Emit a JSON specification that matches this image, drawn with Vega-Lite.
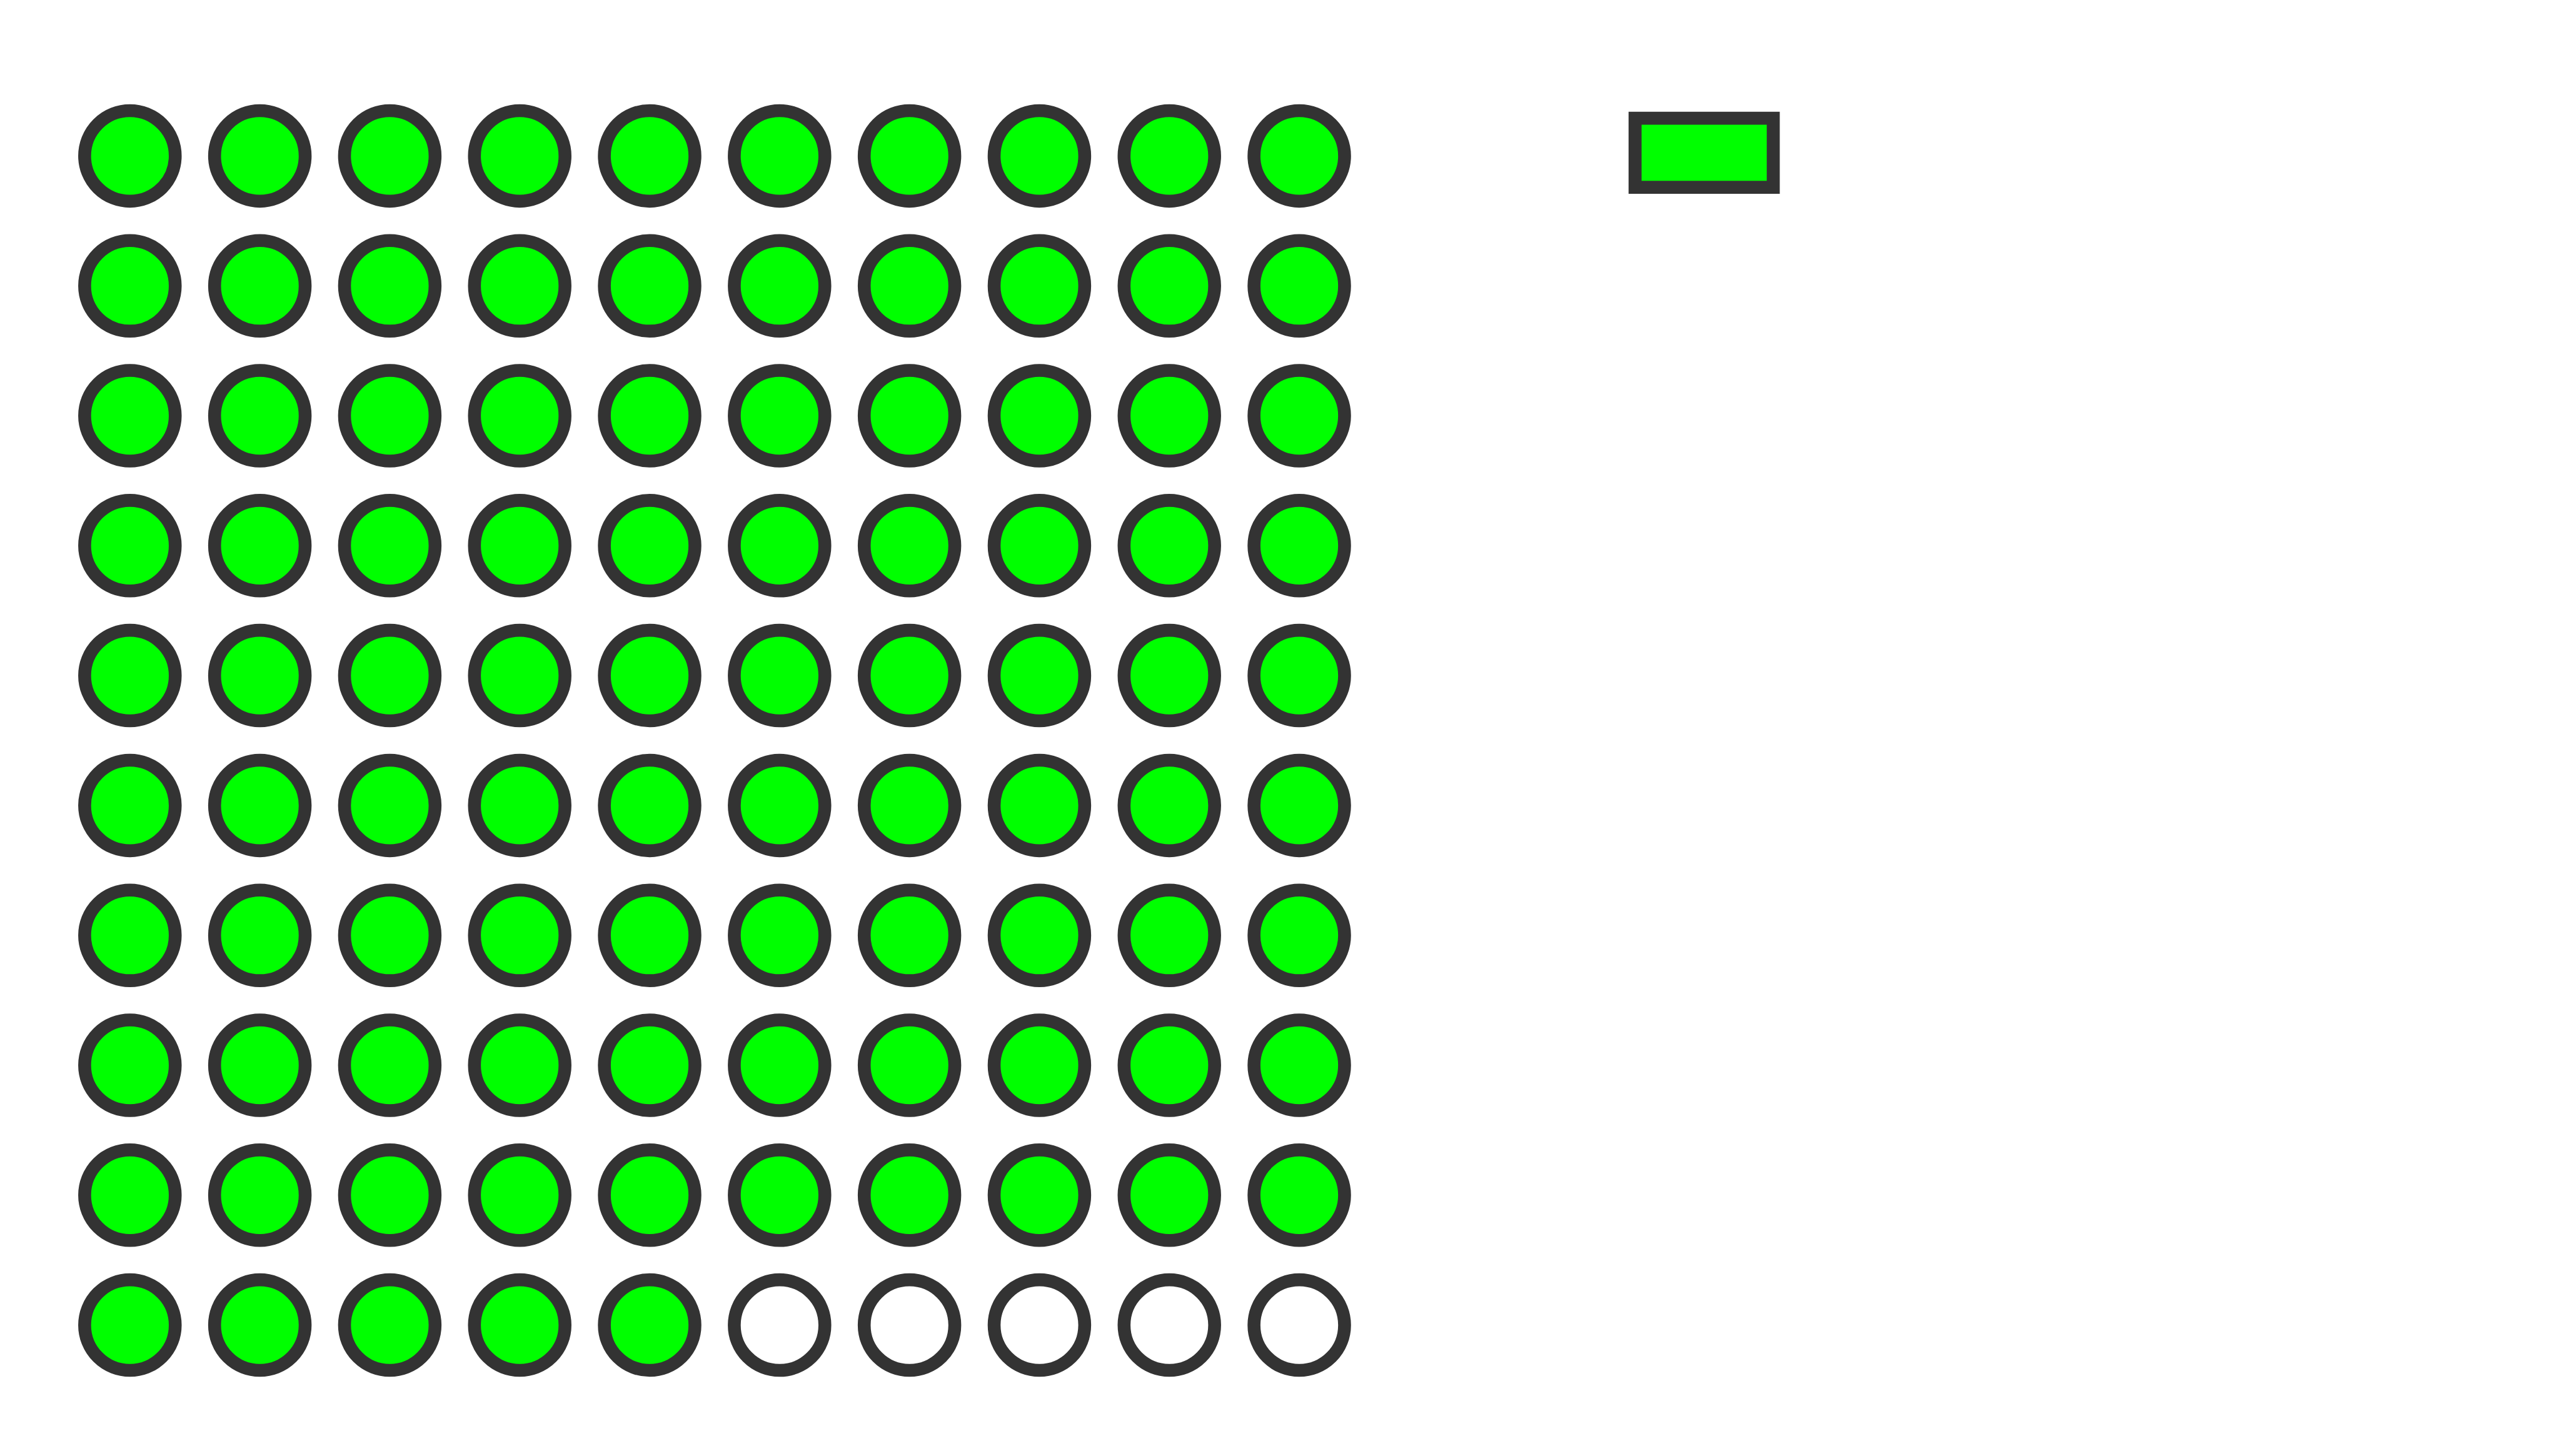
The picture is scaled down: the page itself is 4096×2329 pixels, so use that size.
{
  "$schema": "https://vega.github.io/schema/vega-lite/v6.json",
  "width": 4096,
  "height": 2329,
  "padding": 0,
  "autosize": "none",
  "background": "#ffffff",
  "config": {"view": {"stroke": null}},
  "data": {"values": [
    {"col":1,"row":1,"status":"filled"},{"col":2,"row":1,"status":"filled"},{"col":3,"row":1,"status":"filled"},{"col":4,"row":1,"status":"filled"},{"col":5,"row":1,"status":"filled"},{"col":6,"row":1,"status":"filled"},{"col":7,"row":1,"status":"filled"},{"col":8,"row":1,"status":"filled"},{"col":9,"row":1,"status":"filled"},{"col":10,"row":1,"status":"filled"},
    {"col":1,"row":2,"status":"filled"},{"col":2,"row":2,"status":"filled"},{"col":3,"row":2,"status":"filled"},{"col":4,"row":2,"status":"filled"},{"col":5,"row":2,"status":"filled"},{"col":6,"row":2,"status":"filled"},{"col":7,"row":2,"status":"filled"},{"col":8,"row":2,"status":"filled"},{"col":9,"row":2,"status":"filled"},{"col":10,"row":2,"status":"filled"},
    {"col":1,"row":3,"status":"filled"},{"col":2,"row":3,"status":"filled"},{"col":3,"row":3,"status":"filled"},{"col":4,"row":3,"status":"filled"},{"col":5,"row":3,"status":"filled"},{"col":6,"row":3,"status":"filled"},{"col":7,"row":3,"status":"filled"},{"col":8,"row":3,"status":"filled"},{"col":9,"row":3,"status":"filled"},{"col":10,"row":3,"status":"filled"},
    {"col":1,"row":4,"status":"filled"},{"col":2,"row":4,"status":"filled"},{"col":3,"row":4,"status":"filled"},{"col":4,"row":4,"status":"filled"},{"col":5,"row":4,"status":"filled"},{"col":6,"row":4,"status":"filled"},{"col":7,"row":4,"status":"filled"},{"col":8,"row":4,"status":"filled"},{"col":9,"row":4,"status":"filled"},{"col":10,"row":4,"status":"filled"},
    {"col":1,"row":5,"status":"filled"},{"col":2,"row":5,"status":"filled"},{"col":3,"row":5,"status":"filled"},{"col":4,"row":5,"status":"filled"},{"col":5,"row":5,"status":"filled"},{"col":6,"row":5,"status":"filled"},{"col":7,"row":5,"status":"filled"},{"col":8,"row":5,"status":"filled"},{"col":9,"row":5,"status":"filled"},{"col":10,"row":5,"status":"filled"},
    {"col":1,"row":6,"status":"filled"},{"col":2,"row":6,"status":"filled"},{"col":3,"row":6,"status":"filled"},{"col":4,"row":6,"status":"filled"},{"col":5,"row":6,"status":"filled"},{"col":6,"row":6,"status":"filled"},{"col":7,"row":6,"status":"filled"},{"col":8,"row":6,"status":"filled"},{"col":9,"row":6,"status":"filled"},{"col":10,"row":6,"status":"filled"},
    {"col":1,"row":7,"status":"filled"},{"col":2,"row":7,"status":"filled"},{"col":3,"row":7,"status":"filled"},{"col":4,"row":7,"status":"filled"},{"col":5,"row":7,"status":"filled"},{"col":6,"row":7,"status":"filled"},{"col":7,"row":7,"status":"filled"},{"col":8,"row":7,"status":"filled"},{"col":9,"row":7,"status":"filled"},{"col":10,"row":7,"status":"filled"},
    {"col":1,"row":8,"status":"filled"},{"col":2,"row":8,"status":"filled"},{"col":3,"row":8,"status":"filled"},{"col":4,"row":8,"status":"filled"},{"col":5,"row":8,"status":"filled"},{"col":6,"row":8,"status":"filled"},{"col":7,"row":8,"status":"filled"},{"col":8,"row":8,"status":"filled"},{"col":9,"row":8,"status":"filled"},{"col":10,"row":8,"status":"filled"},
    {"col":1,"row":9,"status":"filled"},{"col":2,"row":9,"status":"filled"},{"col":3,"row":9,"status":"filled"},{"col":4,"row":9,"status":"filled"},{"col":5,"row":9,"status":"filled"},{"col":6,"row":9,"status":"filled"},{"col":7,"row":9,"status":"filled"},{"col":8,"row":9,"status":"filled"},{"col":9,"row":9,"status":"filled"},{"col":10,"row":9,"status":"filled"},
    {"col":1,"row":10,"status":"filled"},{"col":2,"row":10,"status":"filled"},{"col":3,"row":10,"status":"filled"},{"col":4,"row":10,"status":"filled"},{"col":5,"row":10,"status":"filled"},{"col":6,"row":10,"status":"empty"},{"col":7,"row":10,"status":"empty"},{"col":8,"row":10,"status":"empty"},{"col":9,"row":10,"status":"empty"},{"col":10,"row":10,"status":"empty"}
  ]},
  "mark": {"type": "point", "shape": "circle", "filled": true, "size": 20990, "stroke": "#333333", "strokeWidth": 20.6, "strokeOpacity": 1, "opacity": 1},
  "encoding": {
    "x": {"field": "col", "type": "quantitative", "scale": {"domain": [0, 19.711], "nice": false, "zero": false}, "axis": null},
    "y": {"field": "row", "type": "quantitative", "scale": {"domain": [-0.2002, 11.0077], "nice": false, "zero": false, "reverse": true}, "axis": null},
    "fill": {"field": "status", "type": "nominal",
      "scale": {"domain": ["filled", "empty"], "range": ["#00ff00", "#ffffff"]},
      "legend": {"orient": "none", "legendX": 2604.6, "legendY": 123.3, "title": null, "values": ["filled"], "labelExpr": "''", "labelFontSize": 1, "labelOffset": 0, "padding": 0, "symbolType": "M-1,-0.5H1V0.5H-1Z", "symbolSize": 48841, "symbolStrokeColor": "#333333", "symbolStrokeWidth": 20.8, "symbolFillColor": "#00ff00", "symbolOpacity": 1, "symbolOffset": 0}
    }
  }
}
